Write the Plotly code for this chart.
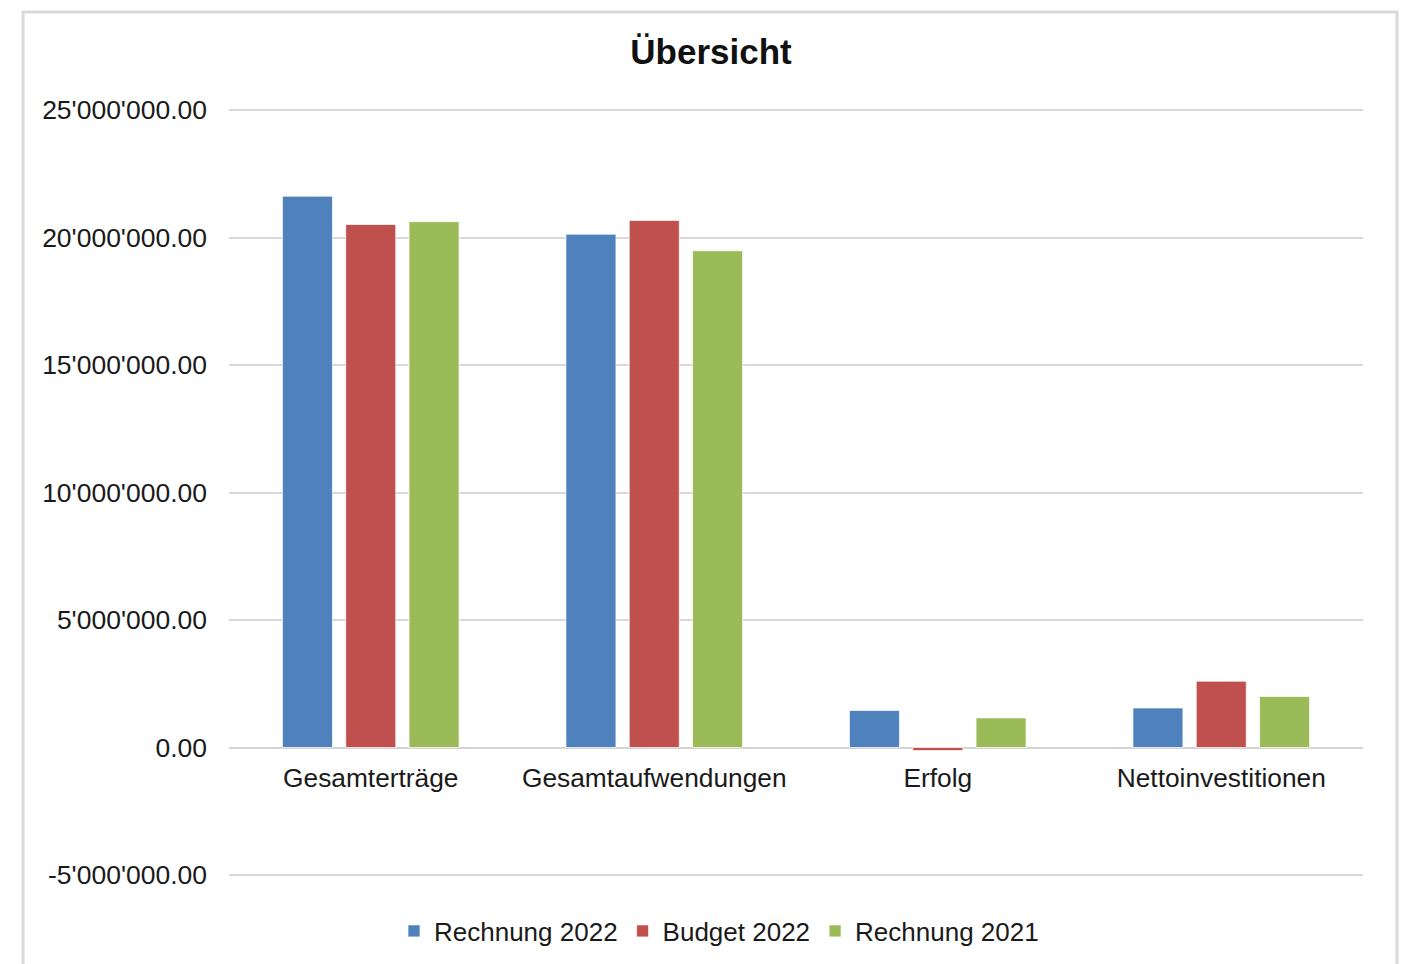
import plotly.graph_objects as go

categories = ["Gesamterträge", "Gesamtaufwendungen", "Erfolg", "Nettoinvestitionen"]
series_names = ["Rechnung 2022", "Budget 2022", "Rechnung 2021"]
rechnung_2022 = [21620000, 20130000, 1450000, 1550000]
budget_2022 = [20510000, 20670000, -120000, 2600000]
rechnung_2021 = [20620000, 19480000, 1160000, 2000000]
tick_values = [-5000000, 0, 5000000, 10000000, 15000000, 20000000, 25000000]
tick_labels = ["-5'000'000.00", "0.00", "5'000'000.00", "10'000'000.00",
               "15'000'000.00", "20'000'000.00", "25'000'000.00"]

colors = ["#4F81BD", "#C0504D", "#9BBB59"]
FONT = "Liberation Sans, Arial, sans-serif"

fig = go.Figure()
for name, vals, col in zip(series_names, [rechnung_2022, budget_2022, rechnung_2021], colors):
    fig.add_trace(go.Bar(
        x=categories, y=vals, name=name,
        marker=dict(color=col, line=dict(color="rgba(255,255,255,0.7)", width=1)),
    ))

# page has an 8px body margin; work in screen coordinates and convert
OFF = 8
W, H = 1407 - OFF, 964 - OFF
ymin, ymax = -5000000, 25000000
top_px, bot_px = 110 - OFF, 875 - OFF          # positions of 25M and -5M
pad_px = 2
per_px = (ymax - ymin) / (bot_px - top_px)
pad = pad_px * per_px
L, R = 229 - OFF, W - (1363 - OFF)
T, B = top_px - pad_px, H - bot_px - pad_px
pw, ph = W - L - R, H - T - B

def px_x(sx):
    return (sx - OFF - L) / pw

def px_y(sy):
    return (H - B - (sy - OFF)) / ph

fig.update_layout(
    width=W, height=H,
    margin=dict(l=L, r=R, t=T, b=B, autoexpand=False),
    paper_bgcolor="white", plot_bgcolor="white",
    font=dict(family=FONT, size=26, color="#1a1a1a"),
    title=dict(text="<b>Übersicht</b>", x=(711 - OFF) / W, xanchor="center",
               y=1 - (52 - OFF) / H, yanchor="middle", xref="container", yref="container",
               font=dict(size=35, color="#111111")),
    barmode="group", bargap=0.33, bargroupgap=0.21,
    showlegend=True,
    legend=dict(orientation="h", xref="container", yref="container",
                x=(719 - OFF) / W, xanchor="center", y=1 - (931 - OFF) / H, yanchor="middle",
                font=dict(size=26), itemwidth=30, traceorder="normal",
                bgcolor="rgba(0,0,0,0)"),
    xaxis=dict(anchor="free", position=(0 - (ymin - pad)) / (ymax - ymin + 2 * pad),
               showgrid=False, showline=False, automargin=False,
               zeroline=False, ticks="", ticklabelstandoff=12,
               tickfont=dict(size=26.3)),
    yaxis=dict(range=[ymin - pad, ymax + pad], tickvals=tick_values, ticktext=tick_labels,
               showgrid=True, gridcolor="#d9d9d9", gridwidth=2, automargin=False,
               zeroline=True, zerolinecolor="#d4d4d4", zerolinewidth=2,
               showline=False, ticks="", ticklabelstandoff=21,
               tickfont=dict(size=26.5)),
    shapes=[dict(type="rect", xref="paper", yref="paper",
                 x0=px_x(23), x1=px_x(1397), y0=px_y(990), y1=px_y(12),
                 line=dict(color="#d9d9d9", width=3), fillcolor="rgba(0,0,0,0)",
                 layer="below")],
)

fig.write_html("out.html")
